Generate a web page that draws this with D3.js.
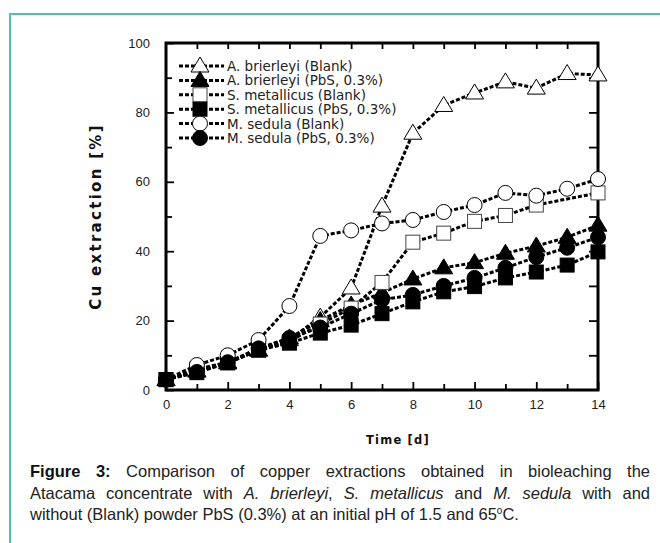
<!DOCTYPE html>
<html>
<head>
<meta charset="utf-8">
<script src="https://cdn.jsdelivr.net/npm/d3@7"></script>
<style>
  body { margin: 0; background: #fff; }
  #frame { position: absolute; left: 9px; top: 13px; width: 660px; height: 540px;
           border-left: 2px solid #4ec3a9; border-top: 2px solid #4ec3a9; }
  #chart { position: absolute; left: 0; top: 0; }
  #caption { position: absolute; left: 30px; top: 461px; width: 620px;
             font-family: "Liberation Sans", Arial, sans-serif; font-size: 16.5px;
             line-height: 21.5px; color: #222; }
  #caption .j { text-align: justify; text-align-last: justify; white-space: nowrap; }
  #caption b { color: #111; }
</style>
</head>
<body>
<div id="frame"></div>
<svg id="chart" width="660" height="460"></svg>
<div id="caption">
  <div class="j"><b>Figure 3:</b> Comparison of copper extractions obtained in bioleaching the</div>
  <div class="j">Atacama concentrate with <i>A. brierleyi</i>, <i>S. metallicus</i> and <i>M. sedula</i> with and</div>
  <div>without (Blank) powder PbS (0.3%) at an initial pH of 1.5 and 65<sup style="font-size:10px;line-height:0">o</sup>C.</div>
</div>
<script>
// days sampled
const days = [0, 1, 2, 3, 4, 5, 6, 7, 8, 9, 10, 11, 12, 13, 14];

// Cu extraction [%]
const brierleyiBlank = [3, 5.5, 7.8, 11.5, 14.5, 21, 29.4, 53, 74, 82, 85.6, 88.8, 87, 91.2, 90.8];
const brierleyiPbS   = [3, 5.5, 8, 11.5, 15, 20, 24.5, 28, 32, 35.2, 36.7, 39.4, 41.5, 44, 47.5];
const metallicusBlankDays = [0, 1, 2, 3, 4, 5, 6, 7, 8, 9, 10, 11, 12, 14];
const metallicusBlank = [3, 6, 8, 11.5, 14, 19, 23.6, 31, 42.6, 45.2, 48.6, 50.3, 53.3, 56.8];
const metallicusPbS   = [3, 5, 7.8, 11.5, 13.5, 16.4, 18.7, 22, 25.4, 28.3, 29.8, 32.3, 34, 36, 39.8];
const sedulaBlank     = [3, 7.2, 10, 14.4, 24.2, 44.4, 46, 48, 49, 51.3, 53.3, 56.8, 56, 58, 60.8];
const sedulaPbS       = [3, 5.2, 8, 12, 15, 18, 22, 26, 27.4, 30, 32.3, 35.2, 38.3, 41, 44];

const seriesNames = ['A. brierleyi (Blank)', 'A. brierleyi (PbS, 0.3%)', 'S. metallicus (Blank)',
                     'S. metallicus (PbS, 0.3%)', 'M. sedula (Blank)', 'M. sedula (PbS, 0.3%)'];
const seriesX = [days, days, metallicusBlankDays, days, days, days];
const seriesY = [brierleyiBlank, brierleyiPbS, metallicusBlank, metallicusPbS, sedulaBlank, sedulaPbS];
const seriesShape = ['triangle', 'triangle', 'square', 'square', 'circle', 'circle'];
const seriesFilled = [false, true, false, true, false, true];

const xTicks = [0, 2, 4, 6, 8, 10, 12, 14];
const yTicks = [0, 20, 40, 60, 80, 100];

const pLeft = 166, pRight = 598, pTop = 43, pBottom = 390;

const x = d3.scaleLinear().domain([0, 14]).range([pLeft, pRight]);
const y = d3.scaleLinear().domain([0, 100]).range([pBottom, pTop]);

const svg = d3.select('#chart');
const font = '"Liberation Sans", Arial, sans-serif';

/* Axes: inward ticks on all four sides */
function styleAxis(g) {
  g.select('.domain').remove();
  g.selectAll('line').attr('stroke', '#000').attr('stroke-width', 1.8);
  g.selectAll('text').attr('font-family', font).attr('font-size', 13).attr('fill', '#222');
}

svg.append('g').attr('transform', `translate(0,${pBottom})`)
  .call(d3.axisBottom(x).tickValues(d3.range(1, 14, 2)).tickSize(-6).tickFormat(''))
  .call(styleAxis);
svg.append('g').attr('transform', `translate(0,${pBottom})`)
  .call(d3.axisBottom(x).tickValues(xTicks).tickSize(-8).tickPadding(10).tickFormat(d3.format('d')))
  .call(styleAxis);
svg.append('g').attr('transform', `translate(0,${pTop})`)
  .call(d3.axisTop(x).tickValues(d3.range(1, 14, 1)).tickSize(-6).tickFormat(''))
  .call(styleAxis);

svg.append('g').attr('transform', `translate(${pLeft},0)`)
  .call(d3.axisLeft(y).tickValues(d3.range(10, 100, 20)).tickSize(-6).tickFormat(''))
  .call(styleAxis);
svg.append('g').attr('transform', `translate(${pLeft},0)`)
  .call(d3.axisLeft(y).tickValues(yTicks).tickSize(-8).tickPadding(16).tickFormat(d3.format('d')))
  .call(styleAxis);
svg.append('g').attr('transform', `translate(${pRight},0)`)
  .call(d3.axisRight(y).tickValues(d3.range(10, 100, 10)).tickSize(-9).tickFormat(''))
  .call(styleAxis);

svg.append('rect').attr('x', pLeft).attr('y', pTop)
  .attr('width', pRight - pLeft).attr('height', pBottom - pTop)
  .attr('fill', 'none').attr('stroke', '#000').attr('stroke-width', 3);

/* Axis titles */
svg.append('text').attr('transform', `translate(101,${(pTop + pBottom) / 2}) rotate(-90)`)
  .attr('text-anchor', 'middle').attr('font-family', '"DejaVu Sans", sans-serif')
  .attr('font-weight', 'bold').attr('font-size', 15).attr('letter-spacing', 2.3)
  .attr('fill', '#111').text('Cu extraction [%]');
svg.append('text').attr('x', 398).attr('y', 444)
  .attr('text-anchor', 'middle').attr('font-family', '"DejaVu Sans", sans-serif')
  .attr('font-weight', 'bold').attr('font-size', 11.5).attr('letter-spacing', 1.2)
  .attr('fill', '#111').text('Time [d]');

/* Markers */
function marker(g, shape, filled, cx, cy) {
  const fill = filled ? '#000' : '#fff';
  if (shape === 'circle') {
    g.append('circle').attr('cx', cx).attr('cy', cy).attr('r', 7.5)
      .attr('fill', fill).attr('stroke', '#000').attr('stroke-width', 1);
  } else if (shape === 'square') {
    g.append('rect').attr('x', cx - 7).attr('y', cy - 7).attr('width', 14).attr('height', 14)
      .attr('fill', fill).attr('stroke', filled ? '#000' : '#444').attr('stroke-width', 1);
  } else {
    g.append('path').attr('d', `M${cx},${cy - 9} L${cx + 9},${cy + 6} L${cx - 9},${cy + 6} Z`)
      .attr('fill', fill).attr('stroke', '#000').attr('stroke-width', 1);
  }
}

const line = d3.line().x(d => x(d[0])).y(d => y(d[1]));

seriesNames.forEach((name, i) => {
  const pts = seriesX[i].map((d, j) => [d, seriesY[i][j]]);
  const g = svg.append('g');
  g.append('path').datum(pts).attr('d', line)
    .attr('fill', 'none').attr('stroke', '#000').attr('stroke-width', 3)
    .attr('stroke-dasharray', '4,2');
  pts.forEach(p => marker(g, seriesShape[i], seriesFilled[i], x(p[0]), y(p[1])));
});

/* Legend */
const legend = svg.append('g');
seriesNames.forEach((name, i) => {
  const ly = 66 + i * 14.4;
  legend.append('line').attr('x1', 179).attr('x2', 224).attr('y1', ly).attr('y2', ly)
    .attr('stroke', '#000').attr('stroke-width', 3).attr('stroke-dasharray', '4,2');
  marker(legend, seriesShape[i], seriesFilled[i], 200, ly);
  legend.append('text').attr('x', 227).attr('y', ly + 5)
    .attr('font-family', '"DejaVu Sans", sans-serif').attr('font-size', 13.5)
    .attr('fill', '#222').text(name);
});
</script>
</body>
</html>
